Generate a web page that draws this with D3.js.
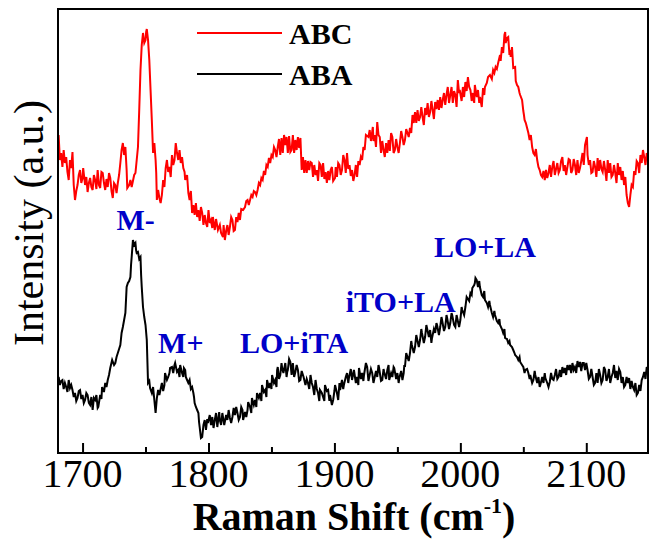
<!DOCTYPE html>
<html><head><meta charset="utf-8"><script src="https://cdn.jsdelivr.net/npm/d3@7"></script></head>
<body style="margin:0">
<script>
// ---- data ----
const seriesNames = ["ABC", "ABA"];
const seriesColors = ["#ff0000", "#000000"];
const xTicksMajor = [1700, 1800, 1900, 2000, 2100];
const xTicksMinor = [1750, 1850, 1950, 2050];
const annotations = [
  {text: "M-", x: 1727, y: 223},
  {text: "M+", x: 1760, y: 100},
  {text: "LO+iTA", x: 1825, y: 100},
  {text: "iTO+LA", x: 1909, y: 141},
  {text: "LO+LA", x: 1979, y: 196}
];
// [Raman shift (cm^-1), intensity (a.u.)]
const abcData = [
[1681,318],[1682,293],[1683,300],[1684,286],[1685,303],[1686,290],[1687,296],[1688,281],[1689,273],[1690,293],[1691,285],[1692,301],[1693,268],
[1694,253],[1695,262],[1696,268],[1697,278],[1698,283],[1699,270],[1700,275],[1700.5,285],[1702,268],[1703,276],[1704,261],[1705,270],[1706,275],[1707,266],[1708,263],[1709,278],[1710,273],
[1711,264],[1712,283],[1713,268],[1714,265],[1715,281],[1716,280],[1717,270],[1718,263],[1719,274],[1720,266],[1721,280],[1722,275],[1723,262],[1724,255],[1725,270],[1726,268],
[1727,260],[1728,270],[1729,278],[1730,290],[1731,303],[1732,310],[1733,298],[1734,306],[1735,283],[1735.5,265],[1737,268],[1738,273],[1739,266],
[1740,272],[1741,278],[1742,280],[1743,293],[1744,306],[1745,343],[1746,383],[1747,408],[1748,420],[1749,410],[1750,413],[1750.5,421],
[1751,424],[1752,413],[1753,393],[1754,363],[1755,333],[1756,300],[1757,310],[1758,293],[1758.5,280],[1759,253],[1760,263],
[1761,255],[1762,250],[1763,258],[1764,273],[1765,266],[1766,285],[1767,293],[1768,281],[1769,286],[1770,276],[1771,298],[1772,288],[1773,293],[1774,310],
[1775,300],[1776,293],[1777,303],[1778,290],[1779,296],[1780,285],[1781,281],[1781.5,273],[1783,278],[1784,260],[1785,253],[1786,262],[1787,240],[1788,248],
[1789,238],[1790,250],[1791,236],[1792,243],[1793,232],[1794,246],[1795,240],[1796,228],[1797,238],[1798,230],[1799,226],[1800,243],[1801,230],[1802,233],[1803,225],[1803.5,236],[1805,223],[1806,234],[1807.5,223],
[1809,228],[1810,220],[1811.5,216],[1812,228],[1813,213],[1814,222],[1815,228],[1816,218],[1817,226],[1818,236],[1819,233],[1820,222],[1821,223],[1822,236],[1823,231],[1824,240],[1825,233],[1826,244],[1827.5,243],
[1829,246],[1830,252],[1831,253],[1832,248],[1833,253],[1834,258],[1835,256],[1836,262],[1837,261],[1838,258],[1839,263],[1840,270],[1841,268],[1842,275],[1843,273],[1844,282],[1845,278],[1846,288],[1847,286],
[1848,295],[1849,290],[1850,298],[1851,296],[1852,306],[1853,303],[1854,296],[1855,306],[1856,314],[1857,298],[1858,315],[1859,300],[1860,318],[1861,308],[1862,316],[1863,300],[1864,317],[1865,301],[1866,303],
[1867,318],[1868,300],[1869,313],[1870,303],[1871,316],[1872,305],[1873,315],[1874,283],[1875,296],[1876,280],[1877,293],[1878,280],[1879,292],[1880,283],[1881,291],[1882,290],[1883,276],[1884,288],[1885,278],[1886,283],
[1887,272],[1888,290],[1889,288],[1890,276],[1891,290],[1892,274],[1893,281],[1894,270],[1895,282],[1896,273],[1897,283],[1898,286],[1899,272],[1900.5,275],[1901,286],[1902,276],[1903,290],[1904,288],[1905,278],[1906,283],
[1907,298],[1908,293],[1909,280],[1910,300],[1911,284],[1912,288],[1913,277],[1914,283],[1915,272],[1916,278],[1917,288],[1918,276],[1919,292],[1920,288],[1921,296],[1922,293],[1923,306],[1924,303],[1925,318],[1927,316],
[1928,323],[1929,312],[1930.5,326],[1931,312],[1932,318],[1933,306],[1934,331],[1935,318],[1936,316],[1937,300],[1938,312],[1939,303],[1940,296],[1941,310],[1942,300],[1943,313],[1944,302],[1945,320],[1946,316],[1947,300],[1948,303],
[1949,314],[1950,306],[1951,300],[1952,310],[1953,322],[1954,316],[1955,308],[1956,313],[1957,324],[1958,320],[1959,316],[1960,325],[1961,320],[1962,338],[1963,330],[1964,341],[1965,330],[1966,343],[1967,332],[1968,336],
[1969,346],[1970,336],[1971,328],[1972,345],[1973,338],[1974,350],[1975,336],[1976,341],[1977,352],[1978,343],[1979,334],[1980,351],[1981,344],[1982,353],[1983,343],[1984,356],[1985,345],[1986,353],[1987,360],[1988,348],
[1989,358],[1990,366],[1991,350],[1992,358],[1993,366],[1994,350],[1995,362],[1996,358],[1997,346],[1998,373],[1999,360],[1999.5,363],[2001,352],[2002,366],[2003,356],[2004,371],[2005,362],[2006,376],[2007,366],[2008,363],
[2009,352],[2010,360],[2011,350],[2011.5,368],[2013,356],[2014,363],[2015,350],[2015.6,356],[2017,346],[2018,365],[2019,358],[2019.5,366],[2021,370],[2022,376],[2023.5,378],[2025,374],[2026,383],[2027,380],[2028,386],
[2029,384],[2030,390],[2031.5,398],[2032,392],[2033,406],[2034,400],[2035,418],[2035.6,421],[2036,410],[2037,415],[2038,416],[2039,398],[2039.5,403],[2040,396],[2041,406],[2042,385],
[2043.5,386],[2044,372],[2045,368],[2046,366],[2047,360],[2047.5,358],[2049,353],[2050,342],[2050.5,338],[2051,333],[2052,330],[2053,325],[2054,320],[2055,313],[2056,318],
[2057,306],[2058,300],[2059,298],[2060,304],[2061,293],[2062,286],[2063,283],[2064,278],[2065,276],[2066,282],[2067,273],[2068,283],[2069,275],[2070,280],[2071,288],[2072,276],[2073,286],[2074,292],[2075,278],
[2076,284],[2077,290],[2078,280],[2079,283],[2080,292],[2081,296],[2082,282],[2083,288],[2084,278],[2085,286],[2086,294],[2087,293],[2088,280],[2089,283],[2090,294],[2091,288],[2092,278],[2093,293],[2094,280],[2095,285],
[2096,292],[2097,300],[2098,288],[2099,308],[2100.5,316],[2101,298],[2102,288],[2103,293],[2104,280],[2105,281],[2106,292],[2107,286],[2108,276],[2109,295],[2110,282],[2111,293],[2112,284],[2113,281],
[2114,292],[2115,283],[2116,272],[2117,293],[2118,280],[2119,290],[2120,276],[2121,278],[2122,288],[2123,280],[2124,270],[2125,290],[2126,278],[2127,286],[2128,273],[2129,282],[2130,268],[2131,276],[2132,258],
[2133,250],[2134,246],[2135,258],[2136,268],[2137,266],[2138,282],[2139,278],[2140,292],[2141,290],[2142,280],[2143,298],[2144,290],[2145,303],[2146,296],[2147,288],[2148,300],[2149,293]
];
const abaData = [
[1681,76],[1682,68],[1683,72],[1684,73],[1685,64],[1686,70],[1687,66],[1688,61],[1689,73],[1690,65],[1691,68],[1692,63],[1693,56],[1694,60],[1695,52],[1696,55],
[1697,62],[1698,63],[1699,54],[1700,58],[1701,50],[1702,53],[1703,60],[1704,58],[1705,50],[1706,48],[1707,56],[1708,43],[1709,55],[1710,53],[1711,58],[1712,45],[1712.5,46],
[1714,58],[1715,54],[1715.5,66],[1717,61],[1718,70],[1719,66],[1720,73],[1721,78],[1722,85],[1723.5,93],[1725,88],[1726,90],[1727,96],[1728,100],
[1729,104],[1730,108],[1731,120],[1732,126],[1733,133],[1734,140],[1735,166],[1736,170],[1737,172],[1738,176],[1738.5,188],[1739,196],[1740,213],[1741,208],
[1742,210],[1742.5,203],[1743,200],[1744,201],[1745,194],[1746,196],[1746.5,178],[1747,166],[1748,146],[1749,136],[1750,128],[1751,113],
[1752,70],[1753,72],[1753.6,65],[1755,60],[1756,66],[1757,53],[1758,40],[1759,55],[1760,63],[1761,58],[1761.5,61],[1763,70],[1764,62],[1765,68],
[1765.5,80],[1767,73],[1768,76],[1769,80],[1769.5,85],[1771,86],[1772,80],[1773,88],[1773.5,90],[1775,81],[1776,83],[1777,76],[1777.5,88],
[1779,80],[1780,76],[1780.5,85],[1781.5,83],[1782,76],[1783,73],[1784,70],[1785,73],[1786,64],[1787,66],[1788,60],[1788.5,56],[1789,50],[1790,46],[1791,43],
[1792,40],[1792.5,31],[1793,26],[1794,15],[1795,16],[1796,28],[1797,33],[1798,23],[1799,34],[1799.5,30],[1801,38],[1802,28],
[1803,36],[1804,25],[1805,33],[1806,40],[1807,26],[1808,36],[1808.5,41],[1809,33],[1810,28],[1811,40],[1812,32],[1812.5,28],[1814,38],[1815,33],[1816,43],
[1817,35],[1818,30],[1819,36],[1820,45],[1821,38],[1822,46],[1823,40],[1824,33],[1825,36],[1826,46],[1827,43],[1827.5,33],[1829,41],[1830,36],
[1831,43],[1831.5,51],[1833,46],[1834,40],[1834.5,55],[1836,48],[1837,53],[1838,46],[1838.5,60],[1840,55],[1841,60],[1842,52],[1842.5,68],
[1844,61],[1845,63],[1846,56],[1846.5,73],[1848,65],[1849,70],[1850,64],[1850.5,78],[1852,70],[1853,73],[1854,66],[1854.5,83],[1855,86],[1856,74],[1857,78],
[1858,90],[1858.5,85],[1859.5,80],[1861,90],[1862,76],[1862.5,81],[1863,83],[1864,94],[1865,91],[1866,78],[1867,90],[1868,76],[1869,81],[1870,88],[1871,83],
[1872,72],[1873,73],[1874,82],[1875.5,76],[1877,68],[1878,74],[1879,70],[1880,64],[1881,78],[1882,70],[1883,66],[1884,58],[1885,73],[1886,64],[1887,60],[1888,52],[1888.5,63],[1890,60],[1891,56],
[1892,52],[1892.5,68],[1894,62],[1895,63],[1896,52],[1896.5,58],[1898,48],[1899,53],[1900,62],[1900.5,68],[1902,60],[1903,53],[1904,70],[1904.5,63],[1906,73],[1907,64],[1907.5,68],[1909,76],[1910,80],
[1911,70],[1911.5,75],[1913,84],[1914,73],[1915,80],[1915.5,83],[1917,70],[1918,76],[1919,68],[1919.5,85],[1921,74],[1922,80],[1923,72],[1923.5,78],[1925,90],[1926,86],[1927,72],[1927.5,75],[1929,84],[1930,80],
[1931,70],[1931.5,73],[1933,82],[1934,76],[1935,88],[1935.5,85],[1937,72],[1938,73],[1939,84],[1939.5,81],[1941,74],[1942,83],[1943,88],[1943.5,73],[1945,80],[1946,76],[1947,86],[1947.5,85],[1949,74],[1950,80],
[1951,70],[1951.5,75],[1953,82],[1954,73],[1955,80],[1955.5,88],[1956,86],[1957,100],[1957.5,98],[1959,92],[1960,100],[1961,112],[1961.5,108],[1963,100],[1964,106],[1965,118],[1965.5,115],[1967,106],[1968,113],
[1969,124],[1969.5,120],[1971,110],[1972,116],[1973,128],[1973.5,125],[1975,116],[1976,123],[1977,110],[1977.5,115],[1979,124],[1980,120],[1981,130],[1981.5,128],[1983,118],[1984,126],[1985,136],[1985.5,133],[1987,122],[1988,126],
[1989,138],[1989.5,135],[1991,124],[1992,130],[1993,140],[1993.5,138],[1995,128],[1996,126],[1997,138],[1997.5,135],[1999,126],[2000,133],[2001,146],[2001.5,143],[2003,138],[2004,146],[2005,156],[2005.5,155],[2007,152],[2008,160],
[2009,158],[2009.5,165],[2011,168],[2011.5,170],[2012,175],[2013,173],[2014,166],[2015,172],[2015.5,166],[2017,158],[2018,156],[2019,162],[2019.5,153],
[2021,150],[2022,146],[2023,152],[2023.5,148],[2025,140],[2026,136],[2027,142],[2027.5,138],[2029,132],[2030,130],[2031,134],[2031.5,128],[2033,124],[2034,120],[2035,124],[2035.5,115],[2037,114],[2038,110],[2039,112],[2039.5,108],
[2041,106],[2042,103],[2043,100],[2043.5,98],[2045,96],[2046,93],[2047,96],[2047.5,91],[2049,88],[2050,86],[2051,80],[2051.5,83],[2053,84],[2054,80],[2055,74],[2055.5,78],[2057,70],[2058,73],[2059,82],[2059.5,78],
[2061,70],[2062,76],[2063,66],[2063.5,68],[2065,76],[2066,70],[2067,80],[2067.5,75],[2069,70],[2070,66],[2071,71],[2072,80],[2073,74],[2074,73],[2075,78],[2076,84],[2077,74],[2078,76],[2079,83],
[2080,76],[2081,86],[2082,80],[2083,85],[2084,78],[2085,88],[2086,83],[2087,88],[2088,80],[2089,90],[2090,83],[2091,86],[2092,80],[2093,92],[2094,86],[2095,91],[2096,82],[2097,90],[2098,90],[2099,83],
[2100,90],[2101,83],[2102,74],[2103,76],[2104,84],[2105,76],[2106,68],[2107,70],[2108,80],[2109,70],[2110,84],[2111,78],[2112,70],[2113,73],[2114,86],[2115,83],[2116,72],[2117,76],[2118,84],[2119,70],
[2120,76],[2121,80],[2122,88],[2123,75],[2124,82],[2125,73],[2126,84],[2127,81],[2128,70],[2129,76],[2130,66],[2131,68],[2132,76],[2133,70],[2134,75],[2135,64],[2136,72],[2137,66],[2138,63],[2139,70],
[2140,58],[2141,60],[2142,68],[2143,62],[2144,73],[2145,76],[2146,81],[2147,74],[2148,86],[2149,83]
];

// ---- layout ----
const W = 650, H = 539;
const M = {left: 58, right: 2, top: 9, bottom: 86};
const FONT = '"Liberation Serif", Tinos, "Times New Roman", "Nimbus Roman", FreeSerif';
const svg = d3.select("body").append("svg").attr("width", W).attr("height", H);

const x = d3.scaleLinear().domain([1680.5, 2149]).range([M.left, W - M.right]);
const y = d3.scaleLinear().domain([0, 444]).range([H - M.bottom, M.top]);

function txt(parent, s, size, bold) {
  const el = parent.append("text").text(s);
  el.style("font-family", FONT).style("font-size", size + "px");
  if (bold) el.style("font-weight", "bold");
  return el;
}

// texts first in document order (they sit in empty regions)
const textLayer = svg.append("g");

// axis titles
const xt = textLayer.append("text").attr("x", 354).attr("y", 530).attr("text-anchor", "middle").attr("fill", "#000")
  .style("font-family", FONT).style("font-size", "40px").style("font-weight", "bold");
xt.append("tspan").text("Raman Shift (cm");
xt.append("tspan").text("-1").style("font-size", "22px").attr("dy", -17);
xt.append("tspan").text(")").attr("dy", 17);

txt(textLayer, "Intensity (a.u.)", 42, false)
  .attr("transform", "translate(43,223) rotate(-90)").attr("text-anchor", "middle").attr("fill", "#000");

// tick labels
xTicksMajor.forEach(t => {
  txt(textLayer, d3.format("d")(t), 40, false)
    .attr("x", x(t)).attr("y", H - M.bottom + 34).attr("text-anchor", "middle").attr("fill", "#000");
});

// legend
const legendY = [33, 74];
seriesNames.forEach((name, i) => {
  txt(textLayer, name, 30, true).attr("x", 289).attr("y", legendY[i] + 11).attr("fill", "#000");
});

// annotations
annotations.forEach(a => {
  txt(textLayer, a.text, 30, true).attr("x", x(a.x)).attr("y", y(a.y)).attr("fill", "#0000c8");
});

// clip
svg.append("clipPath").attr("id", "clip").append("rect")
  .attr("x", M.left).attr("y", M.top)
  .attr("width", W - M.left - M.right).attr("height", H - M.top - M.bottom);

const line = d3.line().x(d => x(d[0])).y(d => y(d[1]));
const g = svg.append("g").attr("clip-path", "url(#clip)");
[abcData, abaData].forEach((data, i) => {
  g.append("path").datum(data).attr("d", line)
    .attr("fill", "none").attr("stroke", seriesColors[i])
    .attr("stroke-width", 2);
});

// legend lines
seriesNames.forEach((name, i) => {
  svg.append("line").attr("x1", 197).attr("x2", 282).attr("y1", legendY[i]).attr("y2", legendY[i])
    .attr("stroke", seriesColors[i]).attr("stroke-width", 2);
});

// axis ticks (inside), labels drawn above
const xAxis = svg.append("g").attr("transform", `translate(0,${H - M.bottom})`)
  .call(d3.axisBottom(x).tickValues(xTicksMajor).tickSizeInner(-10).tickSizeOuter(0).tickFormat(""));
xAxis.select(".domain").remove();
xAxis.selectAll(".tick line").attr("stroke", "#000").attr("stroke-width", 2);
const xMinor = svg.append("g").attr("transform", `translate(0,${H - M.bottom})`)
  .call(d3.axisBottom(x).tickValues(xTicksMinor).tickSizeInner(-6).tickSizeOuter(0).tickFormat(""));
xMinor.select(".domain").remove();
xMinor.selectAll(".tick line").attr("stroke", "#000").attr("stroke-width", 2);

// frame
svg.append("rect").attr("x", M.left).attr("y", M.top)
  .attr("width", W - M.left - M.right).attr("height", H - M.top - M.bottom)
  .attr("fill", "none").attr("stroke", "#000").attr("stroke-width", 2);
</script>
</body>
</html>
